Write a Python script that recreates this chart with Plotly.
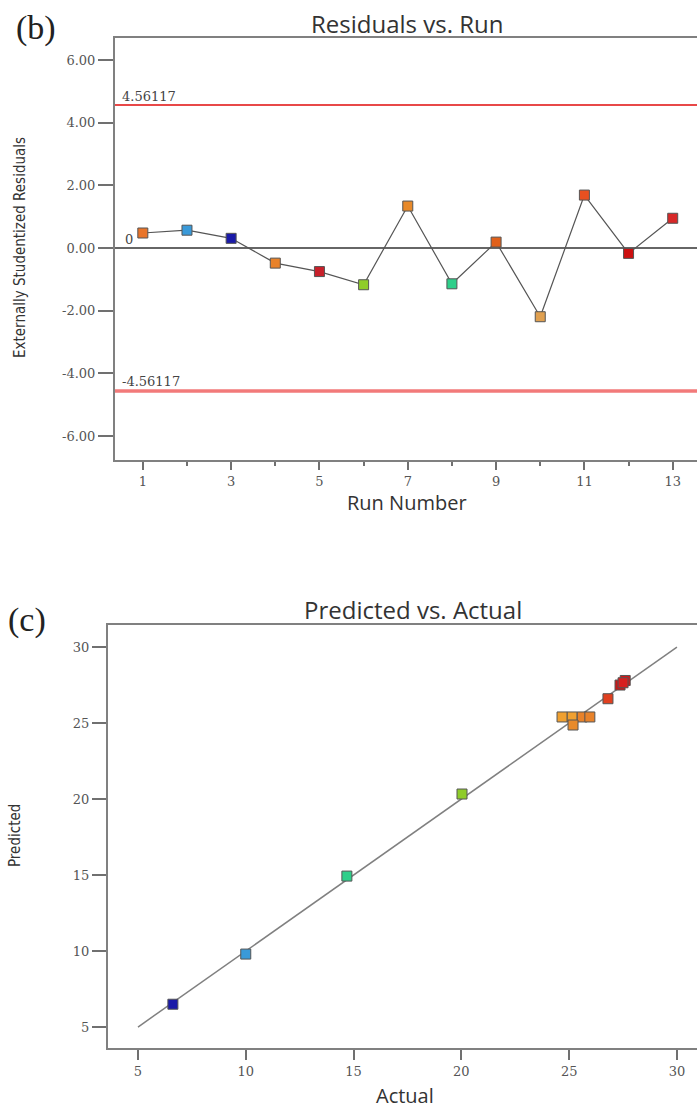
import plotly.graph_objects as go

# ---- Data: Residuals vs. Run ----
runs = [1, 2, 3, 4, 5, 6, 7, 8, 9, 10, 11, 12, 13]
residuals = [0.48, 0.57, 0.31, -0.48, -0.75, -1.17, 1.34, -1.14, 0.19, -2.19, 1.69, -0.17, 0.95]
run_colors = ["#e8742a", "#3a9ad9", "#1a1aa8", "#e8822a", "#c8202a", "#8fcc2a", "#e88a2a",
              "#2ecf8a", "#e0601a", "#e0a050", "#e85020", "#cc1010", "#d82828"]
limit = 4.56117
res_ticks = [-6, -4, -2, 0, 2, 4, 6]
res_ticktext = ["-6.00", "-4.00", "-2.00", "0.00", "2.00", "4.00", "6.00"]

# ---- Data: Predicted vs. Actual ----
actual = [25.60, 10.00, 6.62, 25.13, 26.80, 20.03, 25.96, 14.69, 25.18, 24.67, 27.60, 27.36, 27.50]
predicted = [25.40, 9.80, 6.50, 25.40, 26.60, 20.33, 25.40, 14.93, 24.87, 25.40, 27.80, 27.50, 27.65]
pred_colors = ["#e8822a", "#3a9ad9", "#1a1aa8", "#f0a030", "#e04020", "#8fcc2a", "#e8822a",
               "#2ecf8a", "#e88a2a", "#f0a030", "#d01818", "#c81818", "#d82020"]
diag = [5, 30]
pa_ticks = [5, 10, 15, 20, 25, 30]

W, H = 697, 1111
tick_font = dict(family="DejaVu Serif", size=13, color="#555")
axis_common = dict(showgrid=False, zeroline=False, showline=True, linecolor="#808080",
                   linewidth=2, ticks="outside", tickcolor="#707070", tickwidth=1.5,
                   tickfont=tick_font)

fig = go.Figure()

# reference lines (top)
fig.add_trace(go.Scatter(x=[0, 14], y=[limit, limit], mode="lines",
                         line=dict(color="#e84848", width=2), xaxis="x", yaxis="y",
                         hoverinfo="skip", showlegend=False))
fig.add_trace(go.Scatter(x=[0, 14], y=[-limit, -limit], mode="lines",
                         line=dict(color="#f27a7a", width=3.5), xaxis="x", yaxis="y",
                         hoverinfo="skip", showlegend=False))
fig.add_trace(go.Scatter(x=[0, 14], y=[0, 0], mode="lines",
                         line=dict(color="#333333", width=1.5), xaxis="x", yaxis="y",
                         hoverinfo="skip", showlegend=False))
fig.add_trace(go.Scatter(x=runs, y=residuals, mode="lines+markers",
                         line=dict(color="#555555", width=1.2),
                         marker=dict(symbol="square", size=10, color=run_colors,
                                     line=dict(color="#555555", width=1)),
                         xaxis="x", yaxis="y", showlegend=False))

# bottom chart
fig.add_trace(go.Scatter(x=diag, y=diag, mode="lines",
                         line=dict(color="#808080", width=1.5), xaxis="x2", yaxis="y2",
                         hoverinfo="skip", showlegend=False))
fig.add_trace(go.Scatter(x=actual, y=predicted, mode="markers",
                         marker=dict(symbol="square", size=10, color=pred_colors,
                                     line=dict(color="#555555", width=1)),
                         xaxis="x2", yaxis="y2", showlegend=False))

def px_x(p):
    return p / W

def px_y(p):
    return 1 - p / H

fig.update_layout(
    width=W, height=H, margin=dict(l=0, r=0, t=0, b=0),
    paper_bgcolor="white", plot_bgcolor="white",
    xaxis=dict(axis_common, domain=[px_x(115), 1.0], range=[0.37, 13.55],
               tick0=1, dtick=2, ticklen=8, mirror=True, anchor="y",
               minor=dict(tick0=0, dtick=1, ticks="outside", ticklen=4,
                          tickcolor="#707070", tickwidth=1.5)),
    yaxis=dict(axis_common, domain=[px_y(460), px_y(38)], range=[-6.76, 6.70],
               tickvals=res_ticks, ticktext=res_ticktext, ticklen=15,
               anchor="x"),
    xaxis2=dict(axis_common, domain=[px_x(108), 1.0], range=[3.61, 30.93],
                tickvals=pa_ticks, ticklen=10, mirror=True, anchor="y2"),
    yaxis2=dict(axis_common, domain=[px_y(1048), px_y(625)], range=[3.62, 31.45],
                tickvals=pa_ticks, ticklen=14, anchor="x2"),
)

ann = []
title_font = dict(family="Open Sans", size=24, color="#333")
label_font = dict(family="Open Sans", size=20, color="#333")
ytitle_font = dict(family="DejaVu Sans Condensed", size=15, color="#333")
panel_font = dict(family="Liberation Serif", size=34, color="#222")

ann.append(dict(text="Residuals vs. Run", x=px_x(407), y=px_y(24), xref="paper", yref="paper",
                showarrow=False, font=title_font, xanchor="center", yanchor="middle"))
ann.append(dict(text="Run Number", x=px_x(407), y=px_y(502), xref="paper", yref="paper",
                showarrow=False, font=label_font, xanchor="center", yanchor="middle",
                borderpad=0))
ann.append(dict(text="Externally Studentized Residuals", x=px_x(20), y=px_y(248),
                xref="paper", yref="paper", showarrow=False, font=ytitle_font,
                textangle=-90, xanchor="center", yanchor="middle"))
ann.append(dict(text="(b)", x=px_x(36), y=px_y(28), xref="paper", yref="paper",
                showarrow=False, font=panel_font, xanchor="center", yanchor="middle"))

line_lab_font = dict(family="DejaVu Serif", size=13, color="#444")
ann.append(dict(text="4.56117", x=0.48, y=limit, xref="x", yref="y", showarrow=False,
                font=line_lab_font, xanchor="left", yanchor="bottom", yshift=-1))
ann.append(dict(text="-4.56117", x=0.48, y=-limit, xref="x", yref="y", showarrow=False,
                font=line_lab_font, xanchor="left", yanchor="bottom", yshift=0))
ann.append(dict(text="0", x=0.55, y=0, xref="x", yref="y", showarrow=False,
                font=line_lab_font, xanchor="left", yanchor="bottom", yshift=-1))

ann.append(dict(text="Predicted vs. Actual", x=px_x(413), y=px_y(609), xref="paper", yref="paper",
                showarrow=False, font=title_font, xanchor="center", yanchor="middle"))
ann.append(dict(text="Actual", x=px_x(405), y=px_y(1110), xref="paper", yref="paper",
                showarrow=False, font=label_font, xanchor="center", yanchor="bottom",
                borderpad=0))
ann.append(dict(text="Predicted", x=px_x(15), y=px_y(836), xref="paper", yref="paper",
                showarrow=False, font=ytitle_font, textangle=-90,
                xanchor="center", yanchor="middle"))
ann.append(dict(text="(c)", x=px_x(27), y=px_y(620), xref="paper", yref="paper",
                showarrow=False, font=panel_font, xanchor="center", yanchor="middle"))

fig.update_layout(annotations=ann)
fig.write_html("out.html")
